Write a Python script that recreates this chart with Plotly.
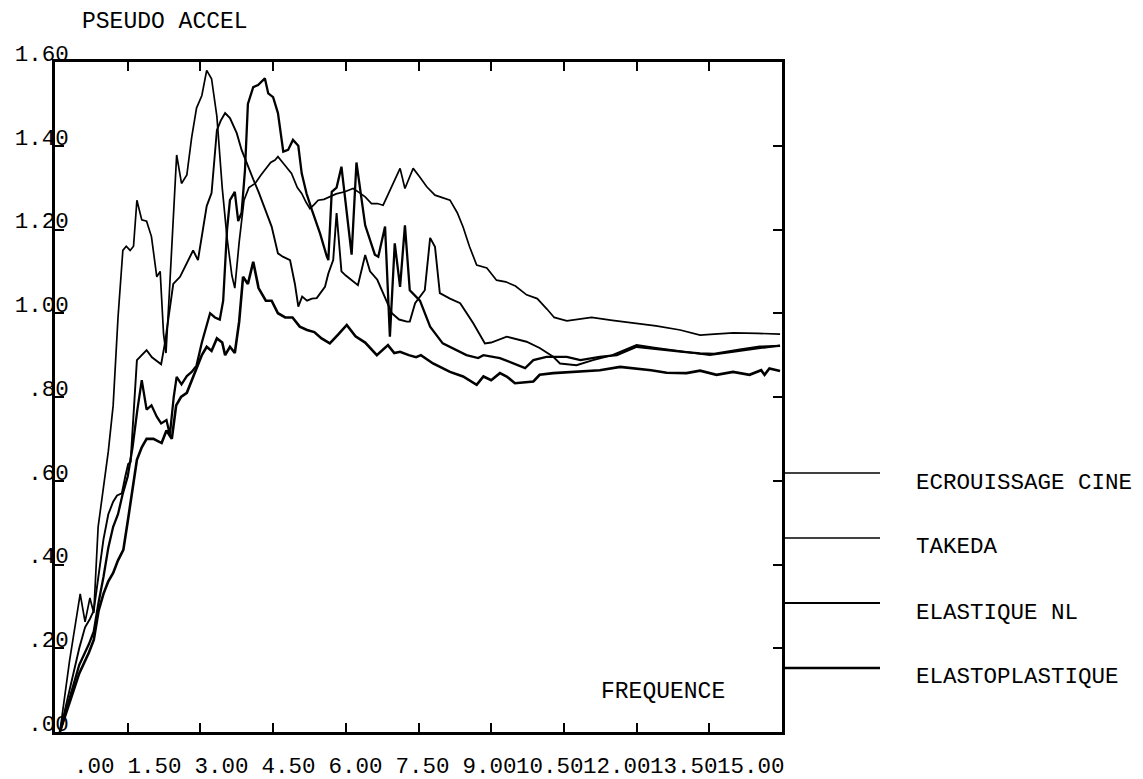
import plotly.graph_objects as go

# ---------------- data ----------------
x_tick_values = [0, 1.5, 3, 4.5, 6, 7.5, 9, 10.5, 12, 13.5, 15]
x_tick_labels = [".00", "1.50", "3.00", "4.50", "6.00", "7.50", "9.00", "10.50", "12.00", "13.50", "15.00"]
y_tick_values = [0, 0.2, 0.4, 0.6, 0.8, 1.0, 1.2, 1.4, 1.6]
y_tick_labels = [".00", ".20", ".40", ".60", ".80", "1.00", "1.20", "1.40", "1.60"]

series_names = ["ECROUISSAGE CINE", "TAKEDA", "ELASTIQUE NL", "ELASTOPLASTIQUE"]

ecrouissage_cine = [
    (0.1, 0), (0.3, 0.17), (0.52, 0.33), (0.62, 0.263), (0.72, 0.32), (0.8, 0.284), (0.89, 0.49),
    (1.0, 0.58), (1.1, 0.67), (1.2, 0.78), (1.3, 0.99), (1.4, 1.15), (1.47, 1.16), (1.55, 1.15),
    (1.62, 1.16), (1.69, 1.27), (1.79, 1.223), (1.89, 1.22), (1.99, 1.183), (2.10, 1.087),
    (2.17, 1.10), (2.24, 0.95), (2.29, 0.905), (2.36, 1.05), (2.45, 1.25), (2.51, 1.378),
    (2.61, 1.31), (2.72, 1.33), (2.82, 1.42), (2.92, 1.49), (3.03, 1.52), (3.13, 1.58),
    (3.23, 1.56), (3.34, 1.47), (3.45, 1.30), (3.55, 1.18), (3.65, 1.09), (3.71, 1.06),
    (3.80, 1.17), (3.9, 1.27), (4.0, 1.30), (4.13, 1.31), (4.25, 1.33), (4.33, 1.342),
    (4.45, 1.36), (4.54, 1.366), (4.6, 1.374), (4.71, 1.358), (4.8, 1.345), (4.88, 1.334),
    (5.0, 1.30), (5.09, 1.286), (5.18, 1.265), (5.26, 1.25), (5.35, 1.26), (5.43, 1.27),
    (5.55, 1.272), (5.67, 1.278), (5.8, 1.285), (5.98, 1.29), (6.15, 1.298), (6.28, 1.288),
    (6.4, 1.278), (6.53, 1.262), (6.65, 1.262), (6.77, 1.258), (6.88, 1.285), (6.98, 1.31),
    (7.12, 1.346), (7.22, 1.298), (7.39, 1.346), (7.53, 1.325), (7.67, 1.302), (7.84, 1.282),
    (8.0, 1.275), (8.15, 1.27), (8.3, 1.24), (8.42, 1.206), (8.55, 1.16), (8.70, 1.115),
    (8.91, 1.108), (9.0, 1.095), (9.11, 1.079), (9.3, 1.075), (9.5, 1.065), (9.73, 1.044),
    (9.95, 1.035), (10.15, 1.01), (10.3, 0.99), (10.56, 0.982), (10.8, 0.985), (11.07, 0.99),
    (11.5, 0.983), (11.93, 0.976), (12.4, 0.97), (12.9, 0.96), (13.31, 0.948), (13.6, 0.95),
    (14.0, 0.953), (14.5, 0.952), (14.96, 0.95),
]

takeda = [
    (0.1, 0), (0.3, 0.1), (0.5, 0.2), (0.62, 0.25), (0.72, 0.27), (0.8, 0.29), (0.9, 0.38),
    (1.0, 0.46), (1.1, 0.52), (1.2, 0.55), (1.28, 0.565), (1.38, 0.57), (1.45, 0.61),
    (1.51, 0.64), (1.56, 0.645), (1.62, 0.75), (1.69, 0.888), (1.79, 0.90), (1.89, 0.912),
    (2.0, 0.895), (2.10, 0.885), (2.19, 0.878), (2.27, 0.93), (2.34, 0.99), (2.44, 1.07),
    (2.58, 1.087), (2.72, 1.12), (2.85, 1.15), (2.95, 1.127), (3.06, 1.20), (3.13, 1.256),
    (3.23, 1.287), (3.34, 1.437), (3.42, 1.46), (3.51, 1.478), (3.61, 1.466), (3.75, 1.43),
    (3.85, 1.39), (3.95, 1.36), (4.09, 1.32), (4.2, 1.29), (4.3, 1.26), (4.47, 1.207),
    (4.6, 1.143), (4.7, 1.135), (4.85, 1.127), (4.95, 1.07), (5.02, 1.016), (5.1, 1.04),
    (5.2, 1.03), (5.3, 1.035), (5.4, 1.036), (5.57, 1.063), (5.64, 1.095), (5.74, 1.127),
    (5.81, 1.239), (5.91, 1.10), (6.0, 1.09), (6.1, 1.08), (6.25, 1.067), (6.4, 1.139),
    (6.5, 1.10), (6.65, 1.08), (6.84, 1.031), (6.95, 1.0), (7.1, 0.985), (7.26, 0.98),
    (7.32, 0.98), (7.43, 1.024), (7.63, 1.055), (7.74, 1.18), (7.84, 1.159), (7.94, 1.048),
    (8.15, 1.035), (8.36, 1.024), (8.63, 0.976), (8.87, 0.928), (9.0, 0.93), (9.32, 0.944),
    (9.73, 0.932), (10.0, 0.917), (10.28, 0.896), (10.42, 0.88), (10.76, 0.876),
    (11.1, 0.888), (11.5, 0.90), (12.0, 0.924), (12.4, 0.917), (13.03, 0.908),
    (13.51, 0.90), (14.0, 0.908), (14.5, 0.915), (14.96, 0.923),
]

elastique_nl = [
    (0.1, 0), (0.3, 0.08), (0.5, 0.16), (0.7, 0.21), (0.8, 0.24), (0.9, 0.31), (1.0, 0.37),
    (1.1, 0.44), (1.2, 0.49), (1.3, 0.52), (1.4, 0.57), (1.5, 0.61), (1.6, 0.68), (1.7, 0.77),
    (1.79, 0.84), (1.89, 0.77), (1.99, 0.78), (2.1, 0.753), (2.19, 0.737), (2.3, 0.745),
    (2.37, 0.71), (2.45, 0.80), (2.51, 0.848), (2.61, 0.83), (2.72, 0.85), (2.82, 0.86),
    (2.92, 0.875), (3.03, 0.93), (3.13, 0.97), (3.2, 1.0), (3.3, 0.99), (3.4, 0.985),
    (3.47, 1.03), (3.55, 1.2), (3.61, 1.27), (3.71, 1.29), (3.78, 1.22), (3.85, 1.24),
    (3.92, 1.342), (3.98, 1.50), (4.09, 1.54), (4.19, 1.545), (4.33, 1.561), (4.4, 1.525),
    (4.5, 1.516), (4.6, 1.478), (4.71, 1.386), (4.81, 1.39), (4.91, 1.414), (5.02, 1.40),
    (5.09, 1.334), (5.19, 1.286), (5.30, 1.247), (5.47, 1.19), (5.61, 1.135), (5.64, 1.127),
    (5.71, 1.29), (5.81, 1.30), (5.91, 1.35), (6.12, 1.14), (6.22, 1.36), (6.33, 1.26),
    (6.4, 1.21), (6.6, 1.14), (6.67, 1.135), (6.81, 1.207), (6.91, 0.944), (7.01, 1.167),
    (7.12, 1.063), (7.22, 1.21), (7.32, 1.055), (7.53, 1.03), (7.74, 0.968), (8.0, 0.928),
    (8.49, 0.90), (8.73, 0.893), (8.84, 0.90), (9.18, 0.893), (9.70, 0.869), (9.87, 0.888),
    (10.14, 0.896), (10.56, 0.896), (10.84, 0.888), (11.24, 0.896), (11.59, 0.90),
    (12.0, 0.92), (12.5, 0.913), (12.96, 0.908), (13.31, 0.904), (13.6, 0.903),
    (14.13, 0.913), (14.54, 0.92), (14.96, 0.922),
]

elastoplastique = [
    (0.1, 0), (0.3, 0.07), (0.5, 0.14), (0.7, 0.19), (0.8, 0.22), (0.9, 0.29), (1.0, 0.33),
    (1.1, 0.36), (1.2, 0.38), (1.3, 0.41), (1.41, 0.435), (1.51, 0.51), (1.6, 0.58),
    (1.69, 0.65), (1.79, 0.68), (1.89, 0.70), (2.03, 0.70), (2.2, 0.69), (2.3, 0.72),
    (2.41, 0.70), (2.5, 0.78), (2.6, 0.80), (2.72, 0.81), (2.82, 0.84), (2.92, 0.87),
    (3.03, 0.90), (3.13, 0.92), (3.23, 0.91), (3.34, 0.94), (3.45, 0.93), (3.51, 0.90),
    (3.61, 0.92), (3.71, 0.905), (3.8, 0.98), (3.88, 1.087), (3.98, 1.07), (4.09, 1.123),
    (4.2, 1.06), (4.35, 1.03), (4.47, 1.03), (4.6, 1.0), (4.75, 0.99), (4.9, 0.99),
    (5.05, 0.968), (5.2, 0.96), (5.35, 0.955), (5.5, 0.94), (5.67, 0.928), (5.85, 0.95),
    (6.02, 0.972), (6.2, 0.945), (6.4, 0.93), (6.64, 0.90), (6.87, 0.924), (7.0, 0.905),
    (7.12, 0.908), (7.3, 0.90), (7.45, 0.895), (7.55, 0.90), (7.8, 0.88), (8.15, 0.86),
    (8.42, 0.849), (8.70, 0.829), (8.84, 0.849), (9.0, 0.84), (9.18, 0.857), (9.32, 0.849),
    (9.49, 0.833), (9.87, 0.837), (10.0, 0.853), (10.28, 0.857), (10.7, 0.86), (11.24, 0.864),
    (11.66, 0.872), (12.0, 0.868), (12.3, 0.864), (12.62, 0.858), (13.03, 0.857),
    (13.31, 0.863), (13.65, 0.853), (13.99, 0.86), (14.33, 0.853), (14.57, 0.864),
    (14.64, 0.853), (14.74, 0.868), (14.96, 0.862),
]

series_points = [ecrouissage_cine, takeda, elastique_nl, elastoplastique]

# ---------------- styling ----------------
FONT = "Liberation Mono"
FS = 22.5
line_widths = [1.7, 1.9, 2.3, 2.6]
legend_widths = [1.6, 1.6, 2.2, 2.4]

OFF = 8                      # page body margin of the browser
W, H = 1143 - OFF, 779 - OFF
# plot frame in screen (reference) pixels
FL, FR, FT, FB = 55, 782, 62, 732
L, T = FL - OFF, FT - OFF
R, B = W - (FR - OFF), H - (FB - OFF)
PW, PH = FR - FL, FB - FT

def px_to_paper_x(px):       # px given in reference (screen) pixels
    return (px - FL) / PW

def py_to_paper_y(py):
    return (FB - py) / PH

fig = go.Figure()
for name, pts, w in zip(series_names, series_points, line_widths):
    fig.add_trace(go.Scatter(
        x=[p[0] for p in pts], y=[p[1] for p in pts], mode="lines", name=name,
        line=dict(color="black", width=w), showlegend=False, hoverinfo="skip"))

# empty trace on the label axis so that it is drawn
fig.add_trace(go.Scatter(x=[], y=[], xaxis="x2", yaxis="y", showlegend=False))

# tick labels form a monospaced row of 5-character fields (narrower than the tick spacing)
char_w = 13.4
field_w = 5 * char_w
label_start_px = 74
center0 = label_start_px + 0.5 * char_w
x2_lo = (FL - center0) / field_w
x2_hi = x2_lo + PW / field_w
padded = [("\u00a0" * (5 - len(t))) + t for t in x_tick_labels]

axis_common = dict(showgrid=False, zeroline=False, showline=True, linecolor="black",
                   linewidth=2.5, ticks="inside", ticklen=9, tickwidth=2,
                   tickcolor="black", mirror="ticks", automargin=False)

fig.update_layout(
    width=W, height=H,
    margin=dict(l=L, r=R, t=T, b=B, pad=0, autoexpand=False),
    paper_bgcolor="white", plot_bgcolor="white",
    font=dict(family=FONT, size=FS, color="black"),
    xaxis=dict(range=[0, 15], tickvals=x_tick_values, showticklabels=False, **axis_common),
    xaxis2=dict(overlaying="x", anchor="y", side="bottom", range=[x2_lo, x2_hi],
                tickvals=list(range(len(x_tick_labels))), ticktext=padded, tickangle=0,
                showgrid=False, zeroline=False, showline=False, ticks="", automargin=False,
                tickfont=dict(family=FONT, size=FS, color="black"),
                ticklabelstandoff=17),
    yaxis=dict(range=[0, 1.6], tickvals=y_tick_values, ticktext=y_tick_labels,
               tickfont=dict(family=FONT, size=FS, color="black"),
               ticklabelstandoff=-21, ticklabelshift=-9, **axis_common),
)

annotations = [
    dict(text="PSEUDO ACCEL", x=px_to_paper_x(165), y=py_to_paper_y(22)),
    dict(text="FREQUENCE", x=px_to_paper_x(663), y=py_to_paper_y(692)),
]
for a_ in annotations:
    a_.update(xref="paper", yref="paper", showarrow=False, xanchor="center", yanchor="middle",
              font=dict(family=FONT, size=23, color="black"))

legend_line_py = [473, 538, 603, 668]
legend_text_py = [483, 547, 613, 677]
shapes = []
for name, lpy, tpy, w in zip(series_names, legend_line_py, legend_text_py, legend_widths):
    shapes.append(dict(type="line", xref="paper", yref="paper",
                       x0=px_to_paper_x(785), x1=px_to_paper_x(880),
                       y0=py_to_paper_y(lpy), y1=py_to_paper_y(lpy),
                       line=dict(color="black", width=w)))
    annotations.append(dict(text=name, xref="paper", yref="paper", showarrow=False,
                            x=px_to_paper_x(914), y=py_to_paper_y(tpy),
                            xanchor="left", yanchor="middle",
                            font=dict(family=FONT, size=22.5, color="black")))

fig.update_layout(annotations=annotations, shapes=shapes)
fig.write_html("out.html")
